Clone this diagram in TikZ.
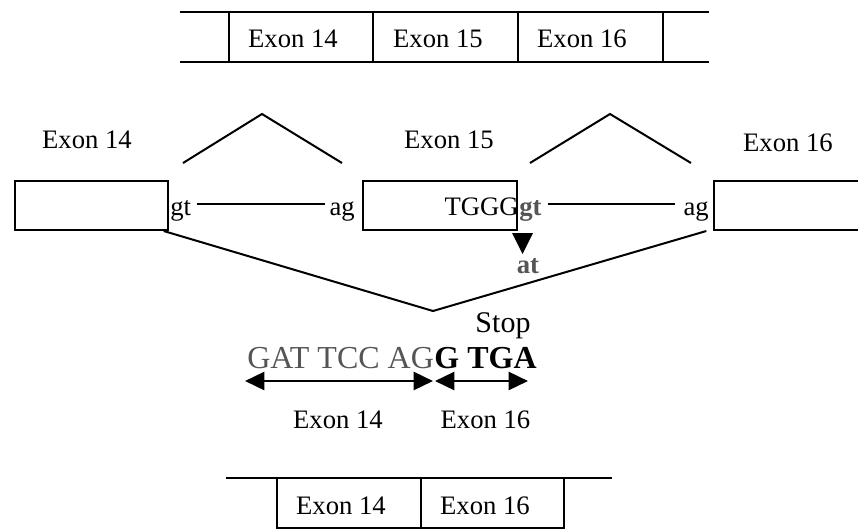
\documentclass[tikz,border=0pt]{standalone}
\usepackage{fontspec}
\setmainfont{Liberation Serif}
\usetikzlibrary{arrows.meta}
\definecolor{seqgray}{RGB}{85,85,85}
\begin{document}
\begin{tikzpicture}[x=0.75pt,y=-0.75pt,
  lbl/.style={font=\fontsize{20}{24}\selectfont, inner sep=0pt, anchor=base},
  seqtxt/.style={font=\fontsize{24}{28}\selectfont, inner sep=0pt, anchor=base},
  ln/.style={line width=1.5pt},
  thinln/.style={line width=1.2pt},
  exonbox/.style={draw, line width=1.5pt, inner sep=0pt, anchor=north west, minimum height=36.75pt},
  dblarrow/.style={line width=1.9pt, {Triangle[length=14.5pt,width=13.5pt]}-{Triangle[length=14.5pt,width=13.5pt]}}
]
\useasboundingbox (0,0) rectangle (858,529);
\clip (0,0) rectangle (858,529);

% ---------- top bar ----------
\coordinate (t1) at (180,12);
\coordinate (t2) at (709,12);
\coordinate (t3) at (180,62);
\coordinate (t4) at (709,62);
\draw[ln] (t1) -- (t2);
\draw[ln] (t3) -- (t4);
\foreach \x in {229,373,518,663} \draw[ln] (\x,12) -- (\x,62);
\node[lbl] (top14) at (293,47) {Exon 14};
\node[lbl] (top15) at (438,47) {Exon 15};
\node[lbl] (top16) at (582,47) {Exon 16};

% ---------- genomic ----------
\node[exonbox, minimum width=114.75pt] (b14) at (14,180) {};
\node[exonbox, minimum width=115.5pt] (b15) at (362,180) {};
\node[exonbox, minimum width=150pt] (b16) at (713,180) {};

\node[lbl] (l14) at (87,148) {Exon 14};
\node[lbl] (l15) at (449,148) {Exon 15};
\node[lbl] (l16) at (788,151) {Exon 16};

\node[lbl, anchor=base west] (gt1) at (170,215) {gt};
\node[lbl, anchor=base east] (ag1) at (355,215) {ag};
\draw[thinln, shorten <=4pt, shorten >=3pt] (gt1.east |- 0,204) -- (ag1.west |- 0,204);

\node[lbl, anchor=base east] (tggg) at (519,215) {TGGG};
\node[lbl, anchor=base west, text=seqgray, font=\fontsize{20}{24}\selectfont\bfseries] (gt2) at (519,215) {gt};
\node[lbl, anchor=base east] (ag2) at (709,215) {ag};
\draw[thinln, shorten <=5pt, shorten >=6pt] (gt2.east |- 0,204) -- (ag2.west |- 0,204);

% chevrons
\coordinate (c1a) at (183,163); \coordinate (c1b) at (262,114); \coordinate (c1c) at (342,163);
\coordinate (c2a) at (530,163); \coordinate (c2b) at (610,114); \coordinate (c2c) at (691,163);
\draw[ln] (c1a) -- (c1b) -- (c1c);
\draw[ln] (c2a) -- (c2b) -- (c2c);

% mutation
\fill (512,233) -- (533,233) -- (522.5,254) -- cycle;
\node[lbl, text=seqgray, font=\fontsize{20}{24}\selectfont\bfseries] (at) at (528,273) {at};

% skipping connector
\coordinate (vbot) at (433,311);
\draw[ln] ([xshift=-4pt]b14.south east) -- (vbot) -- ([xshift=-5pt]b16.south west);

% ---------- sequence ----------
\node[seqtxt, font=\fontsize{22.5}{27}\selectfont] (stop) at (503,332) {Stop};
\node[seqtxt, anchor=base west, text=seqgray] (seqa) at (247,368) {GAT TCC AG};
\node[seqtxt, anchor=base west, font=\fontsize{24}{28}\selectfont\bfseries] (seqb) at (seqa.base east) {G TGA};

\coordinate (a1l) at (245,381);
\coordinate (a1r) at (433,381);
\coordinate (a2l) at (435,381);
\coordinate (a2r) at (528,381);
\draw[dblarrow] (a1l) -- (a1r);
\draw[dblarrow] (a2l) -- (a2r);
\node[lbl] (s14) at (338,428) {Exon 14};
\node[lbl] (s16) at (485.5,428) {Exon 16};

% ---------- bottom bar ----------
\coordinate (m1) at (226,478);
\coordinate (m2) at (612,478);
\draw[ln] (m1) -- (m2);
\draw[ln] (277,478) rectangle (564,528);
\draw[ln] (421,478) -- (421,528);
\node[lbl] (bot14) at (341,514) {Exon 14};
\node[lbl] (bot16) at (485,514) {Exon 16};
\end{tikzpicture}
\end{document}
